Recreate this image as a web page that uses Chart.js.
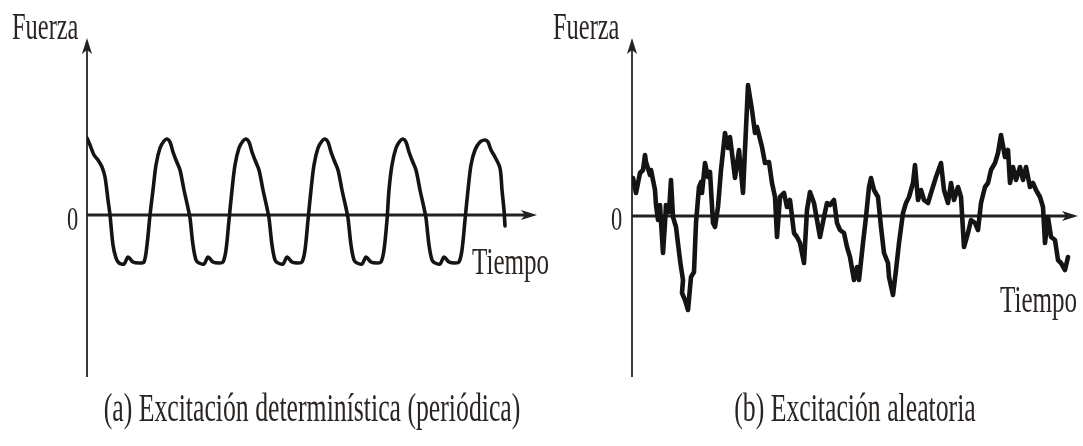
<!DOCTYPE html>
<html>
<head>
<meta charset="utf-8">
<script src="https://cdn.jsdelivr.net/npm/chart.js@4.4.1/dist/chart.umd.min.js"></script>
<style>
  html, body { margin: 0; padding: 0; background: #fff; }
  #wrap { position: relative; width: 1083px; height: 446px; }
  canvas { position: absolute; left: 0; top: 0; }
  .probe { font-family: "Liberation Serif"; position: absolute; left: -999px; }
</style>
</head>
<body>
<div id="wrap">
  <canvas id="periodica" width="1083" height="446"></canvas>
  <canvas id="aleatoria" width="1083" height="446"></canvas>
</div>
<span class="probe">Fuerza</span>
<script>
// (a) excitación periódica: tiempo / fuerza (unidades arbitrarias)
const timeA = [0, 3, 7, 11, 15, 18, 21, 23, 26, 29, 32, 37, 41, 46, 52, 57, 60, 63,
  66, 69, 73, 77, 80, 83, 86, 89, 93, 97, 101, 103, 106, 109, 112, 117, 121, 126, 132, 136, 139, 142,
  145, 148, 152, 156, 159, 162, 165, 168, 172, 176, 180, 182, 185, 188, 191, 196, 200, 205, 211, 215, 218, 221,
  224, 227, 231, 235, 238, 241, 244, 247, 251, 255, 259, 261, 264, 267, 270, 275, 279, 284, 290, 294, 297, 300,
  302, 305, 309, 313, 316, 319, 322, 325, 329, 333, 337, 339, 342, 345, 348, 353, 357, 362, 368, 372, 375, 378,
  381, 384, 388, 393, 398, 401, 404, 408, 413, 415, 417, 418];
const forceA = [77, 70, 60, 55, 48, 38, 15, 0, -30, -43, -48, -49, -42, -47, -48, -47, -30, 0,
  25, 50, 67, 74, 76, 73, 63, 55, 45, 25, 7, -3, -30, -45, -48, -49, -42, -47, -48, -47, -35, -5,
  25, 50, 67, 74, 76, 73, 63, 55, 45, 25, 7, -3, -30, -45, -48, -49, -42, -47, -48, -47, -35, -5,
  25, 50, 67, 74, 76, 73, 63, 55, 45, 25, 7, -3, -30, -45, -48, -49, -42, -47, -48, -47, -35, -5,
  25, 50, 67, 74, 76, 73, 63, 55, 45, 25, 7, -3, -30, -45, -48, -49, -42, -47, -48, -47, -35, -5,
  25, 50, 65, 73, 75, 73, 65, 58, 47, 25, 5, -11];

// (b) excitación aleatoria
const timeB = [1, 4, 8, 11, 13, 14, 18, 19, 23, 24, 26, 28, 31, 33, 34, 37, 39, 41, 44, 48,
  49, 51, 50, 53, 56, 59, 62, 64, 67, 69, 70, 73, 76, 78, 81, 83, 86, 89, 93, 96,
  98, 103, 107, 111, 116, 120, 123, 125, 130, 133, 137, 140, 143, 145, 148, 152, 155, 158, 162, 165,
  168, 172, 175, 178, 182, 185, 188, 192, 195, 198, 202, 205, 208, 212, 215, 218, 222, 225, 227, 231,
  234, 237, 239, 242, 246, 249, 252, 256, 257, 261, 264, 267, 271, 274, 277, 281, 283, 286, 289, 292,
  296, 299, 304, 309, 312, 316, 319, 322, 326, 329, 332, 336, 339, 343, 346, 349, 353, 356, 359, 363,
  366, 369, 373, 376, 378, 381, 384, 388, 391, 394, 398, 401, 404, 408, 411, 413, 416, 419, 423, 426,
  429, 433, 436];
const forceB = [38, 23, 43, 46, 61, 54, 41, 46, 26, 11, -4, 11, -37, -7, 11, 4, 36, -1, -11, -44,
  -51, -64, -77, -84, -94, -61, -56, -7, 29, 34, 23, 53, 39, 44, -7, -11, 9, 46, 83, 68,
  79, 38, 66, 23, 131, 106, 83, 89, 69, 53, 54, 33, 19, -21, 19, 23, 9, 16, -17, -21,
  -27, -47, 6, 24, 13, -4, -21, -1, 13, 11, 16, -7, -14, -17, -31, -41, -64, -51, -64, -27,
  -1, 29, 38, 26, 19, -11, -37, -47, -61, -79, -54, -27, 3, 13, 19, 33, 51, 16, 26, 16,
  13, 23, 39, 53, 26, 13, 33, 16, 29, 19, -31, -17, -4, -7, -14, 13, 29, 33, 46, 53,
  63, 81, 59, 66, 33, 49, 36, 49, 36, 49, 29, 33, 26, 19, 9, -27, -1, -21, -24, -44,
  -47, -54, -41];

const axisLabels = ['Fuerza', 'Tiempo', '0'];
const captions = ['(a) Excitación determinística (periódica)', '(b) Excitación aleatoria'];

const INK = '#2a2522';
const SERIF = '"Liberation Serif", "Times New Roman", "DejaVu Serif", serif';
// ancho condensado, como en la figura original
const SQUEEZE = 0.66;

function serifText(ctx, text, x, base, size, align) {
  ctx.save();
  ctx.font = size + 'px ' + SERIF;
  const w = ctx.measureText(text).width * SQUEEZE;
  let left = x;
  if (align === 'center') left = x - w / 2;
  ctx.translate(left, base);
  ctx.scale(SQUEEZE, 1);
  ctx.fillStyle = INK;
  ctx.textBaseline = 'alphabetic';
  ctx.fillText(text, 0, 0);
  ctx.restore();
}

function arrowHead(ctx, x, y, dir) {
  ctx.save();
  ctx.translate(x, y);
  if (dir === 'right') ctx.rotate(Math.PI / 2);
  ctx.beginPath();
  ctx.moveTo(0, 0);
  ctx.lineTo(-5, 16);
  ctx.lineTo(0, 12);
  ctx.lineTo(5, 16);
  ctx.closePath();
  ctx.fillStyle = '#222';
  ctx.fill();
  ctx.restore();
}

const axesPlugin = {
  id: 'ejes',
  beforeDatasetsDraw(chart, args, o) {
    const ctx = chart.ctx;
    const xs = chart.scales.x, ys = chart.scales.y;
    const x0 = xs.getPixelForValue(0), y0 = ys.getPixelForValue(0);
    ctx.save();
    ctx.strokeStyle = '#3a3a3a';
    ctx.lineWidth = 2;
    ctx.beginPath();
    ctx.moveTo(x0, ys.bottom);
    ctx.lineTo(x0, ys.top + 8);
    ctx.stroke();
    arrowHead(ctx, x0, ys.top, 'up');
    ctx.strokeStyle = '#222';
    ctx.lineWidth = 2.8;
    ctx.beginPath();
    ctx.moveTo(x0, y0);
    ctx.lineTo(xs.right - 8, y0);
    ctx.stroke();
    arrowHead(ctx, xs.right, y0, 'right');
    ctx.restore();
  },
  afterDraw(chart, args, o) {
    const ctx = chart.ctx;
    const xs = chart.scales.x;
    serifText(ctx, axisLabels[0], o.fuerza[0], o.fuerza[1], 37);
    serifText(ctx, axisLabels[1], o.tiempo[0], o.tiempo[1], 38);
    serifText(ctx, axisLabels[2], o.cero[0], o.cero[1], 34);
    serifText(ctx, o.caption, (xs.left + xs.right) / 2, o.capBase, 39, 'center');
  }
};

function makePanel(id, times, forces, cfg) {
  new Chart(document.getElementById(id), {
    type: 'line',
    data: {
      datasets: [{
        data: times.map((t, i) => ({ x: t, y: forces[i] })),
        borderColor: '#141414',
        borderWidth: cfg.width,
        tension: cfg.tension,
        pointRadius: 0,
        borderJoinStyle: 'round',
        borderCapStyle: 'round',
        fill: false
      }]
    },
    options: {
      responsive: false,
      animation: false,
      devicePixelRatio: 1,
      layout: { padding: cfg.padding },
      scales: {
        x: { type: 'linear', min: 0, max: cfg.xMax, display: false },
        y: { min: cfg.yMin, max: cfg.yMax, display: false }
      },
      plugins: {
        legend: { display: false },
        tooltip: { enabled: false },
        ejes: cfg.text
      }
    },
    plugins: [axesPlugin]
  });
}

function build() {
  makePanel('periodica', timeA, forceA, {
    width: 3.6, tension: 0.3,
    padding: { left: 87, right: 546, top: 38, bottom: 69 },
    xMax: 450, yMin: -162, yMax: 177,
    text: { fuerza: [12, 39], tiempo: [472, 274], cero: [67, 230], caption: captions[0], capBase: 421 }
  });
  makePanel('aleatoria', timeB, forceB, {
    width: 4.6, tension: 0,
    padding: { left: 632, right: 5, top: 38, bottom: 69 },
    xMax: 446, yMin: -161, yMax: 178,
    text: { fuerza: [553, 39], tiempo: [1000, 312], cero: [611, 230], caption: captions[1], capBase: 421 }
  });
}

if (document.fonts && document.fonts.load) {
  document.fonts.load('37px "Liberation Serif"').then(build, build);
} else {
  build();
}
</script>
</body>
</html>
